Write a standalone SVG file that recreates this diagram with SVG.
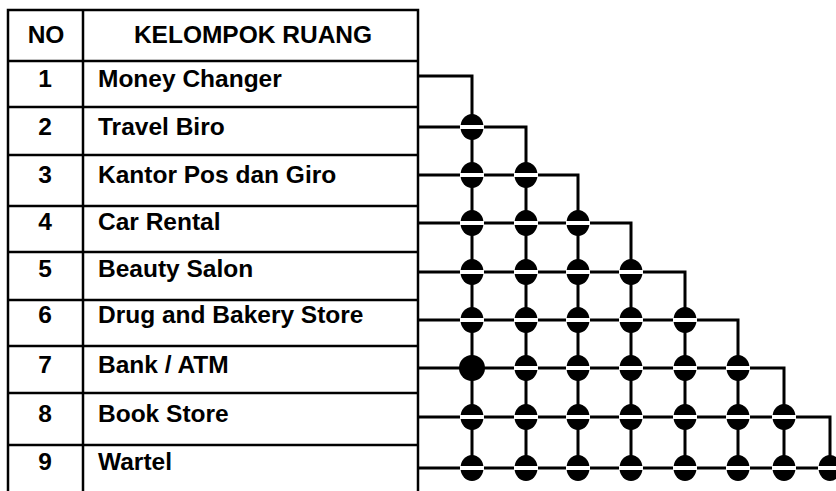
<svg xmlns="http://www.w3.org/2000/svg" xmlns:xlink="http://www.w3.org/1999/xlink" width="836" height="491" viewBox="0 0 836 491">
<style>
.tl{stroke:#000;stroke-width:2.5;fill:none}
.cn{stroke:#000;stroke-width:3;fill:none;stroke-linejoin:miter}
text{font-family:"Liberation Sans",Arial,sans-serif;font-weight:bold;font-size:24.5px;fill:#000}
.c{text-anchor:middle}
</style>
<defs>
<g id="jn"><ellipse cx="0" cy="0" rx="11.5" ry="13" fill="#000"/><rect x="-12" y="-2" width="24" height="4" fill="#fff"/></g>
<g id="jf"><circle cx="0" cy="0" r="13" fill="#000"/></g>
</defs>
<rect width="836" height="491" fill="#fff"/>
<g id="table">
<path class="tl" d="M8,491V10H418V491M83,10V491"/>
<g id="header"><path class="tl" d="M8,61H418"/><text class="c" x="46" y="43">NO</text><text class="c" x="253" y="43">KELOMPOK RUANG</text></g>
<g id="row-1"><path class="tl" d="M8,107H418"/><text class="c" x="45" y="87">1</text><text x="98" y="87">Money Changer</text></g>
<g id="row-2"><path class="tl" d="M8,155H418"/><text class="c" x="45" y="135">2</text><text x="98" y="135">Travel Biro</text></g>
<g id="row-3"><path class="tl" d="M8,206H418"/><text class="c" x="45" y="183">3</text><text x="98" y="183">Kantor Pos dan Giro</text></g>
<g id="row-4"><path class="tl" d="M8,252H418"/><text class="c" x="45" y="230">4</text><text x="98" y="230">Car Rental</text></g>
<g id="row-5"><path class="tl" d="M8,300H418"/><text class="c" x="45" y="277">5</text><text x="98" y="277">Beauty Salon</text></g>
<g id="row-6"><path class="tl" d="M8,346H418"/><text class="c" x="45" y="323">6</text><text x="98" y="323">Drug and Bakery Store</text></g>
<g id="row-7"><path class="tl" d="M8,393H418"/><text class="c" x="45" y="373">7</text><text x="98" y="373">Bank / ATM</text></g>
<g id="row-8"><path class="tl" d="M8,445H418"/><text class="c" x="45" y="422">8</text><text x="98" y="422">Book Store</text></g>
<g id="row-9"><text class="c" x="45" y="470">9</text><text x="98" y="470">Wartel</text></g>
</g>
<g id="connectors">
<path class="cn" d="M418,76H472V468"/>
<path class="cn" d="M418,127H526V468"/>
<path class="cn" d="M418,175H578V468"/>
<path class="cn" d="M418,223H631V468"/>
<path class="cn" d="M418,272H685V468"/>
<path class="cn" d="M418,320H738V468"/>
<path class="cn" d="M418,368H784V468"/>
<path class="cn" d="M418,417H830V468"/>
<path class="cn" d="M418,468H836"/>
<g id="junctions">
<use xlink:href="#jn" x="472" y="127"/>
<use xlink:href="#jn" x="472" y="175"/><use xlink:href="#jn" x="526" y="175"/>
<use xlink:href="#jn" x="472" y="223"/><use xlink:href="#jn" x="526" y="223"/><use xlink:href="#jn" x="578" y="223"/>
<use xlink:href="#jn" x="472" y="272"/><use xlink:href="#jn" x="526" y="272"/><use xlink:href="#jn" x="578" y="272"/><use xlink:href="#jn" x="631" y="272"/>
<use xlink:href="#jn" x="472" y="320"/><use xlink:href="#jn" x="526" y="320"/><use xlink:href="#jn" x="578" y="320"/><use xlink:href="#jn" x="631" y="320"/><use xlink:href="#jn" x="685" y="320"/>
<use xlink:href="#jf" x="472" y="368"/><use xlink:href="#jn" x="526" y="368"/><use xlink:href="#jn" x="578" y="368"/><use xlink:href="#jn" x="631" y="368"/><use xlink:href="#jn" x="685" y="368"/><use xlink:href="#jn" x="738" y="368"/>
<use xlink:href="#jn" x="472" y="417"/><use xlink:href="#jn" x="526" y="417"/><use xlink:href="#jn" x="578" y="417"/><use xlink:href="#jn" x="631" y="417"/><use xlink:href="#jn" x="685" y="417"/><use xlink:href="#jn" x="738" y="417"/><use xlink:href="#jn" x="784" y="417"/>
<use xlink:href="#jn" x="472" y="468"/><use xlink:href="#jn" x="526" y="468"/><use xlink:href="#jn" x="578" y="468"/><use xlink:href="#jn" x="631" y="468"/><use xlink:href="#jn" x="685" y="468"/><use xlink:href="#jn" x="738" y="468"/><use xlink:href="#jn" x="784" y="468"/><use xlink:href="#jn" x="830" y="468"/>
</g>
</g>
</svg>
